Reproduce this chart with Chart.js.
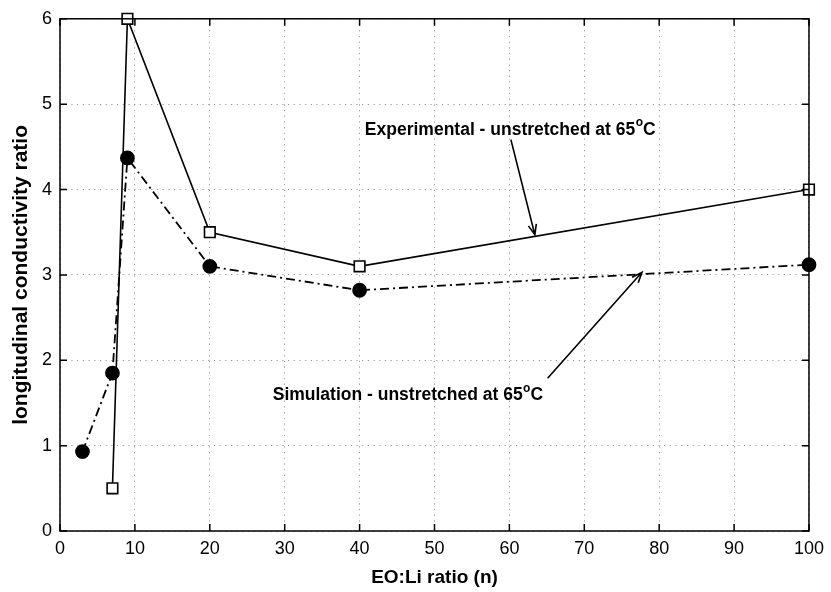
<!DOCTYPE html>
<html>
<head>
<meta charset="utf-8">
<script src="https://cdn.jsdelivr.net/npm/chart.js@4.4.0/dist/chart.umd.min.js"></script>
<style>
  html, body { margin: 0; padding: 0; background: #fff; }
  #wrap { width: 831px; height: 592px; }
</style>
</head>
<body>
<div id="wrap"><canvas id="c"></canvas></div>
<script>
// values
const expX = [7, 9, 20, 40, 100];
const expY = [0.5, 6.0, 3.5, 3.1, 4.0];
const simX = [3, 7, 9, 20, 40, 100];
const simY = [0.93, 1.85, 4.37, 3.1, 2.82, 3.12];
const xTicks = [0, 10, 20, 30, 40, 50, 60, 70, 80, 90, 100];
const yTicks = [0, 1, 2, 3, 4, 5, 6];

const FONT = 'Liberation Sans, Arial, Helvetica, sans-serif';

// text + arrow callouts, in data units
const notes = [
  { text: 'Experimental - unstretched at 65', sup: 'o', tail: 'C', at: [40.7, 4.70], from: [60.2, 4.585], to: [63.4, 3.47] },
  { text: 'Simulation - unstretched at 65', sup: 'o', tail: 'C', at: [28.4, 1.59], from: [65.1, 1.79], to: [77.7, 3.03] },
];

const zip = (xs, ys) => xs.map((x, i) => ({ x, y: ys[i] }));

const framePlugin = {
  id: 'frame',
  afterDraw(chart) {
    const { ctx, chartArea: a, scales: { x, y } } = chart;
    ctx.save();
    ctx.strokeStyle = '#000';
    ctx.lineWidth = 1.5;
    ctx.strokeRect(a.left, a.top, a.right - a.left, a.bottom - a.top);
    // inner tick marks on all four sides
    ctx.beginPath();
    for (const v of xTicks) {
      const px = x.getPixelForValue(v);
      ctx.moveTo(px, a.bottom); ctx.lineTo(px, a.bottom - 7);
      ctx.moveTo(px, a.top); ctx.lineTo(px, a.top + 7);
    }
    for (const v of yTicks) {
      const py = y.getPixelForValue(v);
      ctx.moveTo(a.left, py); ctx.lineTo(a.left + 7, py);
      ctx.moveTo(a.right, py); ctx.lineTo(a.right - 7, py);
    }
    ctx.stroke();

    // callouts
    ctx.fillStyle = '#000';
    ctx.lineWidth = 1.6;
    for (const n of notes) {
      const x0 = x.getPixelForValue(n.from[0]), y0 = y.getPixelForValue(n.from[1]);
      const x1 = x.getPixelForValue(n.to[0]), y1 = y.getPixelForValue(n.to[1]);
      ctx.beginPath();
      ctx.moveTo(x0, y0); ctx.lineTo(x1, y1);
      const ang = Math.atan2(y1 - y0, x1 - x0), L = 11, w = 0.38;
      ctx.moveTo(x1 - L * Math.cos(ang - w), y1 - L * Math.sin(ang - w));
      ctx.lineTo(x1, y1);
      ctx.lineTo(x1 - L * Math.cos(ang + w), y1 - L * Math.sin(ang + w));
      ctx.stroke();

      let tx = x.getPixelForValue(n.at[0]);
      const ty = y.getPixelForValue(n.at[1]);
      ctx.textBaseline = 'middle';
      ctx.textAlign = 'left';
      ctx.font = 'bold 17.5px ' + FONT;
      ctx.fillText(n.text, tx, ty);
      tx += ctx.measureText(n.text).width;
      ctx.font = 'bold 12px ' + FONT;
      ctx.fillText(n.sup, tx + 0.5, ty - 7);
      tx += ctx.measureText(n.sup).width + 0.5;
      ctx.font = 'bold 17.5px ' + FONT;
      ctx.fillText(n.tail, tx, ty);
    }
    ctx.restore();
  }
};

new Chart(document.getElementById('c'), {
  type: 'scatter',
  data: {
    datasets: [
      {
        label: 'Experimental - unstretched at 65°C',
        data: zip(expX, expY),
        showLine: true,
        borderColor: '#000',
        borderWidth: 1.6,
        pointStyle: 'rect',
        pointRadius: 7.5,
        pointBorderWidth: 1.6,
        pointBackgroundColor: '#fff',
        pointBorderColor: '#000',
        clip: false,
      },
      {
        label: 'Simulation - unstretched at 65°C',
        data: zip(simX, simY),
        showLine: true,
        borderColor: '#000',
        borderWidth: 1.8,
        borderDash: [9, 4, 2, 4],
        pointStyle: 'circle',
        pointRadius: 6.5,
        pointBackgroundColor: '#000',
        pointBorderColor: '#000',
        clip: false,
      },
    ],
  },
  options: {
    responsive: true,
    maintainAspectRatio: false,
    animation: false,
    devicePixelRatio: 1,
    layout: { padding: { left: 0, right: 20, top: 15, bottom: 0 } },
    plugins: { legend: { display: false }, tooltip: { enabled: false } },
    scales: {
      x: {
        type: 'linear', min: 0, max: 100,
        afterFit: (s) => { s.height = 61; },
        afterBuildTicks: (s) => { s.ticks = xTicks.map((v) => ({ value: v })); },
        ticks: { color: '#000', padding: 7, font: { family: FONT, size: 18 } },
        grid: { color: '#999', lineWidth: 1, drawTicks: false },
        border: { display: false, dash: [1.2, 4.5] },
        title: { display: true, text: 'EO:Li ratio (n)', color: '#000', padding: { top: 0, bottom: 3 }, font: { family: FONT, size: 19, weight: 'bold' } },
      },
      y: {
        type: 'linear', min: 0, max: 6,
        afterFit: (s) => { s.width = 60; },
        afterBuildTicks: (s) => { s.ticks = yTicks.map((v) => ({ value: v })); },
        ticks: { color: '#000', padding: 8, font: { family: FONT, size: 18 } },
        grid: { color: '#999', lineWidth: 1, drawTicks: false },
        border: { display: false, dash: [1.2, 4.5] },
        title: { display: true, text: 'longitudinal conductivity ratio', color: '#000', padding: { top: 9, bottom: 0 }, font: { family: FONT, size: 21, weight: 'bold' } },
      },
    },
  },
  plugins: [framePlugin],
});
</script>
</body>
</html>
